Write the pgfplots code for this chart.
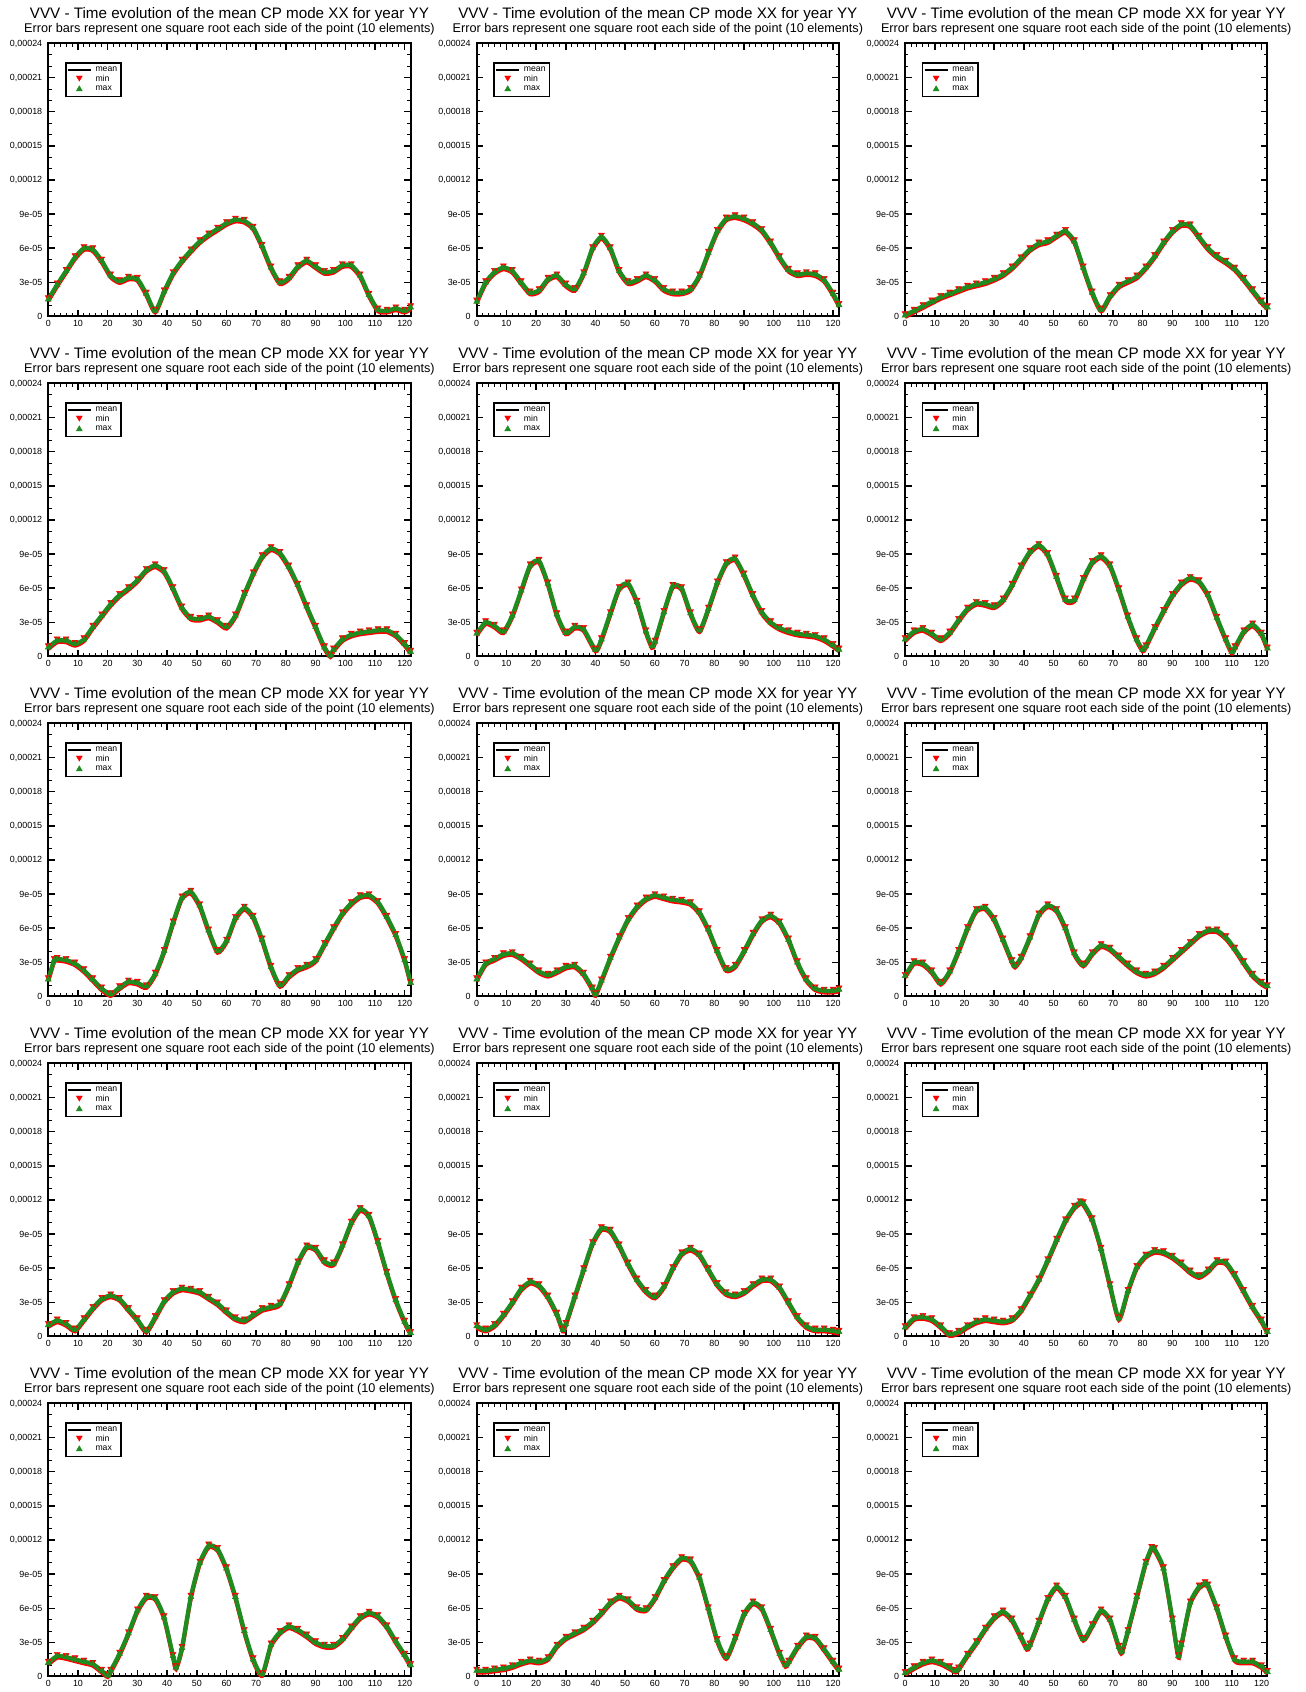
\documentclass[border=0pt]{standalone}
\usepackage{fontspec}
\setmainfont{Liberation Sans}
\usepackage{pgfplots}
\usepackage{pgfplotstable}
\pgfplotsset{compat=1.18}
\definecolor{mgreen}{RGB}{30,140,30}
\definecolor{mred}{RGB}{255,0,0}
% values of y in units of 1e-05
\pgfplotstableread{
x y
0 1.5
3 2.8
6 4.0
9 5.2
12 6.0
15 5.9
18 4.9
21 3.6
24 3.1
27 3.4
30 3.3
33 2.0
36 0.5
39 2.2
42 3.8
45 4.9
48 5.8
51 6.6
54 7.2
57 7.7
60 8.2
63 8.5
66 8.4
69 7.8
72 6.2
75 4.3
78 3.0
81 3.4
84 4.4
87 4.9
90 4.4
93 3.9
96 4.0
99 4.5
102 4.5
105 3.6
108 1.9
111 0.6
114 0.5
117 0.7
120 0.5
122 0.8
}\dA
\pgfplotstableread{
x y
0 1.3
3 3.0
6 3.9
9 4.3
12 4.0
15 3.0
18 2.1
21 2.3
24 3.3
27 3.6
30 2.8
33 2.4
36 3.8
39 6.0
42 7.0
45 6.0
48 4.0
51 3.0
54 3.2
57 3.6
60 3.2
63 2.4
66 2.1
69 2.1
72 2.4
75 3.6
78 5.6
81 7.5
84 8.6
87 8.8
90 8.6
93 8.2
96 7.6
99 6.5
102 5.2
105 4.1
108 3.7
111 3.8
114 3.7
117 3.2
120 2.0
122 1.0
}\dB
\pgfplotstableread{
x y
0 0.1
3 0.5
6 0.9
9 1.3
12 1.7
15 2.0
18 2.3
21 2.6
24 2.8
27 3.0
30 3.3
33 3.7
36 4.3
39 5.1
42 5.9
45 6.4
48 6.6
51 7.1
54 7.5
57 6.6
60 4.3
63 2.1
66 0.6
69 1.8
72 2.7
75 3.1
78 3.5
81 4.3
84 5.3
87 6.5
90 7.5
93 8.1
96 8.0
99 7.0
102 6.0
105 5.3
108 4.8
111 4.2
114 3.3
117 2.3
120 1.3
122 0.8
}\dC
\pgfplotstableread{
x y
0 0.8
3 1.4
6 1.4
9 1.1
12 1.5
15 2.6
18 3.6
21 4.6
24 5.4
27 6.0
30 6.7
33 7.6
36 8.0
39 7.5
42 6.0
45 4.3
48 3.4
51 3.3
54 3.5
57 3.1
60 2.6
63 3.6
66 5.5
69 7.3
72 8.8
75 9.5
78 9.1
81 7.9
84 6.3
87 4.4
90 2.6
93 0.8
95 0.1
96 0.6
99 1.5
102 1.9
105 2.1
108 2.2
111 2.3
114 2.3
117 1.9
120 1.1
122 0.4
}\dD
\pgfplotstableread{
x y
0 2.0
3 3.0
6 2.7
9 2.2
12 3.6
15 5.8
18 8.0
21 8.4
24 6.4
27 3.7
30 2.1
33 2.6
36 2.4
40 0.6
42 1.5
45 3.8
48 6.0
51 6.4
54 4.8
57 2.2
59 0.9
60 1.3
63 3.9
66 6.2
69 6.0
72 3.8
75 2.3
78 4.2
81 6.5
84 8.2
87 8.6
90 7.2
93 5.4
96 3.9
99 3.0
102 2.5
105 2.2
108 2.0
111 1.9
114 1.8
117 1.5
120 1.0
122 0.6
}\dE
\pgfplotstableread{
x y
0 1.5
3 2.2
6 2.4
9 2.0
12 1.5
15 2.1
18 3.2
21 4.2
24 4.7
27 4.6
30 4.4
33 5.0
36 6.3
39 7.9
42 9.2
45 9.8
48 9.0
51 7.0
54 5.0
57 5.0
60 6.8
63 8.3
66 8.8
69 8.0
72 5.9
75 3.5
78 1.5
80 0.6
81 0.9
84 2.5
87 4.0
90 5.4
93 6.4
96 6.9
99 6.6
102 5.4
105 3.4
108 1.5
110 0.4
111 0.8
114 2.2
117 2.8
120 2.0
122 0.7
}\dF
\pgfplotstableread{
x y
0 1.5
2 3.2
3 3.3
6 3.2
9 2.9
12 2.3
15 1.5
18 0.7
21 0.2
24 0.8
27 1.3
30 1.2
33 0.9
36 2.0
39 4.0
42 6.5
45 8.7
48 9.2
51 8.0
54 5.8
57 4.0
60 4.9
63 6.9
66 7.8
69 7.0
72 5.0
75 2.6
78 1.0
81 1.8
84 2.4
87 2.7
90 3.2
93 4.6
96 6.0
99 7.3
102 8.2
105 8.8
108 8.9
111 8.3
114 7.0
117 5.4
120 3.2
122 1.2
}\dG
\pgfplotstableread{
x y
0 1.5
3 2.9
6 3.3
9 3.7
12 3.8
15 3.4
18 2.8
21 2.2
24 1.9
27 2.2
30 2.6
33 2.7
36 2.0
39 0.7
40 0.2
42 1.4
45 3.4
48 5.2
51 6.8
54 7.9
57 8.6
60 8.9
63 8.7
66 8.5
69 8.4
72 8.2
75 7.4
78 5.9
81 4.0
84 2.4
87 2.7
90 4.0
93 5.5
96 6.7
99 7.1
102 6.5
105 5.0
108 3.0
111 1.5
114 0.7
117 0.5
120 0.5
122 0.6
}\dH
\pgfplotstableread{
x y
0 1.8
3 3.0
6 2.9
9 2.2
12 1.2
15 2.2
18 4.0
21 6.0
24 7.6
27 7.8
30 6.8
33 5.0
36 3.1
37 2.7
39 3.4
42 5.2
45 7.2
48 8.0
51 7.6
54 6.0
57 3.8
60 2.8
63 3.8
66 4.5
69 4.2
72 3.5
75 2.8
78 2.2
81 1.9
84 2.1
87 2.6
90 3.3
93 4.0
96 4.7
99 5.4
102 5.8
105 5.8
108 5.2
111 4.2
114 3.0
117 1.9
120 1.2
122 0.9
}\dI
\pgfplotstableread{
x y
0 1.0
3 1.4
6 1.1
9 0.6
12 1.5
15 2.5
18 3.3
21 3.6
24 3.3
27 2.4
30 1.5
33 0.5
36 1.7
39 3.1
42 3.9
45 4.2
48 4.1
51 3.9
54 3.4
57 2.9
60 2.2
63 1.6
66 1.4
69 1.9
72 2.4
75 2.6
78 2.9
81 4.5
84 6.5
87 7.9
90 7.7
93 6.6
96 6.4
99 8.0
102 10.0
105 11.2
108 10.6
111 8.3
114 5.6
117 3.2
120 1.3
122 0.3
}\dJ
\pgfplotstableread{
x y
0 0.9
3 0.6
6 1.0
9 1.9
12 3.0
15 4.2
18 4.8
21 4.5
24 3.5
27 2.0
29 0.6
30 1.1
33 3.5
36 5.9
39 8.2
42 9.5
45 9.3
48 8.0
51 6.4
54 5.0
57 4.0
60 3.5
63 4.4
66 6.0
69 7.3
72 7.7
75 7.2
78 5.9
81 4.6
84 3.8
87 3.6
90 3.9
93 4.5
96 5.0
99 5.0
102 4.3
105 3.0
108 1.7
111 0.9
114 0.6
117 0.6
120 0.5
122 0.4
}\dK
\pgfplotstableread{
x y
0 0.8
3 1.6
6 1.7
9 1.5
12 0.9
15 0.2
18 0.4
21 0.9
24 1.3
27 1.5
30 1.4
33 1.3
36 1.5
39 2.3
42 3.6
45 5.0
48 6.7
51 8.5
54 10.2
57 11.4
59 11.8
60 11.7
63 10.3
66 7.7
69 4.5
72 1.6
75 4.0
78 6.1
81 7.1
84 7.5
87 7.4
90 7.0
93 6.4
96 5.7
99 5.3
102 5.8
105 6.6
108 6.5
111 5.4
114 4.0
117 2.6
120 1.4
122 0.4
}\dL
\pgfplotstableread{
x y
0 1.2
3 1.8
6 1.7
9 1.5
12 1.3
15 1.1
18 0.5
20 0.1
21 0.5
24 2.0
27 3.8
30 5.8
33 7.0
36 6.9
39 5.2
42 1.8
43 0.8
45 2.5
48 7.0
51 10.0
54 11.5
57 11.2
60 9.5
63 7.0
66 4.0
69 1.5
72 0.2
75 2.8
78 3.9
81 4.4
84 4.1
87 3.6
90 3.0
93 2.7
96 2.7
99 3.3
102 4.3
105 5.2
108 5.6
111 5.3
114 4.4
117 3.1
120 1.9
122 1.0
}\dM
\pgfplotstableread{
x y
0 0.5
3 0.5
6 0.6
9 0.7
12 0.9
15 1.2
18 1.4
21 1.3
24 1.6
27 2.7
30 3.4
33 3.8
36 4.2
39 4.8
42 5.6
45 6.5
48 7.0
51 6.7
54 6.0
57 5.9
60 6.9
63 8.4
66 9.6
69 10.4
72 10.2
75 8.7
78 6.0
81 3.2
84 1.7
87 3.4
90 5.5
93 6.5
96 6.0
99 4.1
102 2.0
104 1.0
105 1.3
108 2.6
111 3.5
114 3.4
117 2.4
120 1.3
122 0.6
}\dN
\pgfplotstableread{
x y
0 0.3
3 0.8
6 1.2
9 1.4
12 1.2
15 0.8
17 0.5
18 0.7
21 1.9
24 3.0
27 4.2
30 5.2
33 5.7
36 5.0
39 3.5
41 2.5
42 2.8
45 4.8
48 6.8
51 7.9
54 7.0
57 5.0
60 3.3
63 4.5
66 5.8
69 5.0
72 2.6
73 2.2
75 4.0
78 7.0
81 10.0
83 11.3
84 11.2
87 9.5
90 5.0
92 1.8
93 2.8
96 6.5
99 7.9
101 8.2
102 8.0
105 6.0
108 3.5
111 1.5
114 1.3
117 1.3
120 0.9
122 0.4
}\dO

\pgfplotsset{panel/.style={
  scale only axis, width=271.8pt, height=204.75pt, anchor=north west,
  xmin=0, xmax=122, ymin=0, ymax=24,
  xtick={0,10,...,120}, minor x tick num=4,
  ytick={0,3,...,24},
  yticklabels={0,3e-05,6e-05,9e-05,{0,00012},{0,00015},{0,00018},{0,00021},{0,00024}},
  minor y tick num=2,
  tick align=inside, tick pos=both,
  xticklabel pos=lower, yticklabel pos=left,
  axis line style={line width=1.5pt},
  major tick style={black, line width=1.1pt},
  minor tick style={black, line width=0.7pt},
  major tick length=5pt, minor tick length=2.5pt,
  tick label style={font=\fontsize{6.7}{7}\selectfont},
  yticklabel style={xshift=-1pt},
  xticklabel style={yshift=1pt},
  /pgf/number format/assume math mode=true,
  clip=false,
  legend cell align=left,
  legend style={at={(0.046,0.932)}, anchor=north west, draw=black,
    line width=1.3pt, font=\fontsize{6.5}{6.5}\selectfont,
    inner sep=1pt, row sep=-2.5pt, column sep=1pt},
}}

\newcommand{\panel}[3]{%
\begin{axis}[panel, at={(#1,#2)}]
\addplot[black, line width=1.2pt, smooth, tension=0.4] table[x=x,y=y] {#3};
\addlegendentry{mean}
\addplot[forget plot, mred, line width=3pt, smooth, tension=0.4, yshift=-1.3pt] table[x=x,y=y] {#3};
\addplot[only marks, line width=0.3pt, mark=triangle*, mark size=2.6pt,
  mark options={rotate=180, fill=mred, draw=mred, yshift=-1.5pt}] table[x=x,y=y] {#3};
\addlegendentry{min}
\addplot[forget plot, mgreen, line width=3.2pt, smooth, tension=0.4] table[x=x,y=y] {#3};
\addplot[only marks, line width=0.3pt, mark=triangle*, mark size=2.6pt,
  mark options={fill=mgreen, draw=mgreen}] table[x=x,y=y] {#3};
\addlegendentry{max}
\path (rel axis cs:0.5,1) ++(0,18.7pt) node[anchor=base, font=\fontsize{11.4}{12}\selectfont, inner sep=0pt] {VVV - Time evolution of the mean CP mode XX for year YY};
\path (rel axis cs:0.5,1) ++(0,8.4pt) node[anchor=base, font=\fontsize{9.5}{10}\selectfont, inner sep=0pt] {Error bars represent one square root each side of the point (10 elements)};
\end{axis}}

\begin{document}
\begin{tikzpicture}
\path[use as bounding box] (0,0) rectangle (979.5pt,-1269pt);
\panel{36.2pt}{-32.6pt}{\dA}
\panel{357.5pt}{-32.6pt}{\dB}
\panel{678.8pt}{-32.6pt}{\dC}
\panel{36.2pt}{-287.6pt}{\dD}
\panel{357.5pt}{-287.6pt}{\dE}
\panel{678.8pt}{-287.6pt}{\dF}
\panel{36.2pt}{-542.6pt}{\dG}
\panel{357.5pt}{-542.6pt}{\dH}
\panel{678.8pt}{-542.6pt}{\dI}
\panel{36.2pt}{-797.6pt}{\dJ}
\panel{357.5pt}{-797.6pt}{\dK}
\panel{678.8pt}{-797.6pt}{\dL}
\panel{36.2pt}{-1052.6pt}{\dM}
\panel{357.5pt}{-1052.6pt}{\dN}
\panel{678.8pt}{-1052.6pt}{\dO}
\end{tikzpicture}
\end{document}
